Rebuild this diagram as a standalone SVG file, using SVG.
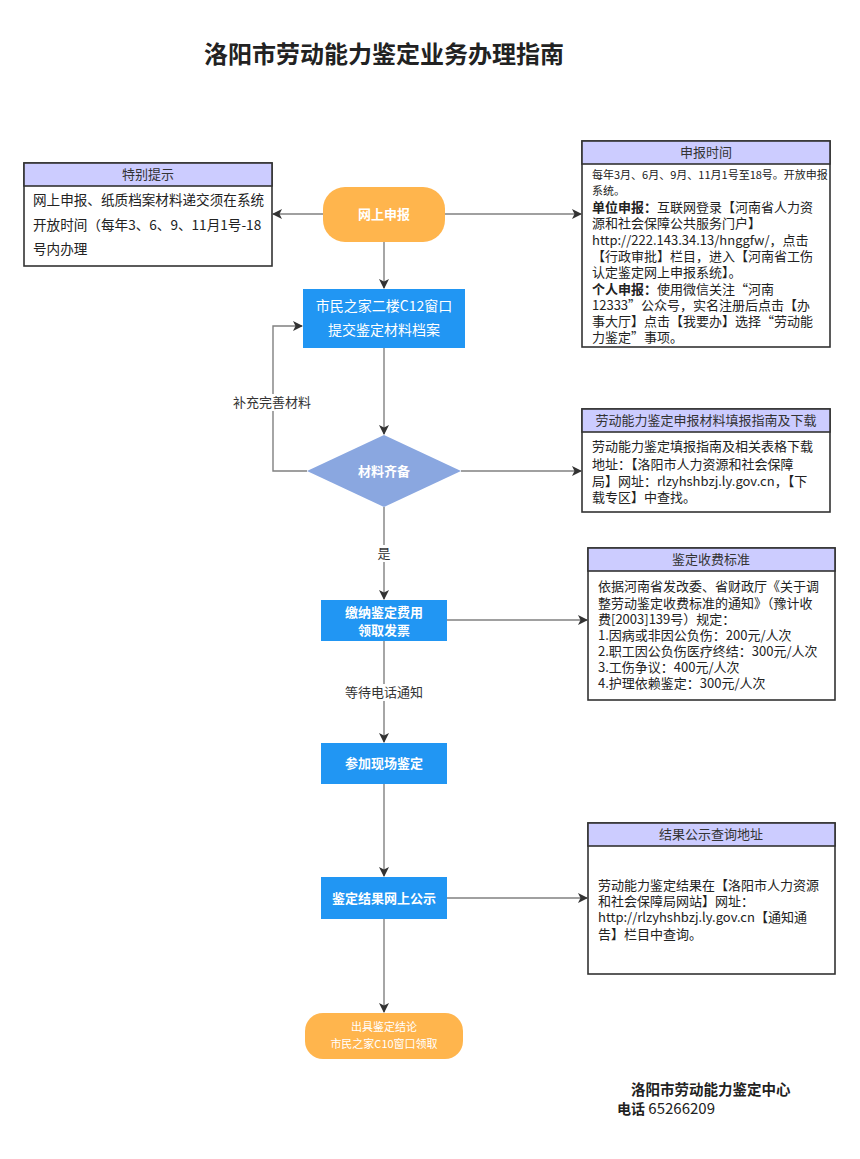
<svg xmlns="http://www.w3.org/2000/svg" width="860" height="1159" viewBox="0 0 860 1159">
<style>
text{font-family:"Noto Sans CJK SC","Noto Sans",sans-serif;fill:#222}
.box{fill:#fff;stroke:#333;stroke-width:1.6}
.hdr{fill:#ccccff;stroke:#333;stroke-width:1.6}
.ht{font-size:13px;text-anchor:middle;fill:#333}
.bt{font-size:13px}
.b11{font-size:11px}
.w{fill:#fff;text-anchor:middle}
.bold{font-weight:bold}
.ln{fill:none;stroke:#808080;stroke-width:1.4}
.lbl{font-size:13px;text-anchor:middle;fill:#333}
</style>
<defs>
<marker id="ar" viewBox="0 0 10 10" refX="9" refY="5" markerWidth="10" markerHeight="10" markerUnits="userSpaceOnUse" orient="auto">
<path d="M0,0 L10,5 L0,10 L2.5,5 Z" fill="#333"/>
</marker>
</defs>
<rect width="860" height="1159" fill="#fff"/>
<text x="384" y="63" font-size="24" font-weight="bold" text-anchor="middle" fill="#333">洛阳市劳动能力鉴定业务办理指南</text>

<g id="connectors">
<line class="ln" x1="323" y1="214" x2="273" y2="214" marker-end="url(#ar)"/>
<line class="ln" x1="445" y1="214" x2="581" y2="214" marker-end="url(#ar)"/>
<line class="ln" x1="384" y1="242" x2="384" y2="288" marker-end="url(#ar)"/>
<line class="ln" x1="384" y1="348" x2="384" y2="434" marker-end="url(#ar)"/>
<polyline class="ln" points="307,471 273,471 273,326 302,326" marker-end="url(#ar)"/>
<rect x="232" y="394" width="80" height="17" fill="#fff"/>
<text class="lbl" x="272" y="407">补充完善材料</text>
<line class="ln" x1="461" y1="471" x2="581" y2="471" marker-end="url(#ar)"/>
<line class="ln" x1="384" y1="507" x2="384" y2="599" marker-end="url(#ar)"/>
<rect x="376" y="545" width="16" height="17" fill="#fff"/>
<text class="lbl" x="384" y="558">是</text>
<line class="ln" x1="447" y1="620" x2="587" y2="620" marker-end="url(#ar)"/>
<line class="ln" x1="384" y1="641" x2="384" y2="742" marker-end="url(#ar)"/>
<rect x="344" y="684" width="80" height="17" fill="#fff"/>
<text class="lbl" x="384" y="697">等待电话通知</text>
<line class="ln" x1="384" y1="784" x2="384" y2="876" marker-end="url(#ar)"/>
<line class="ln" x1="447" y1="898" x2="587" y2="898" marker-end="url(#ar)"/>
<line class="ln" x1="384" y1="919" x2="384" y2="1012" marker-end="url(#ar)"/>
</g>

<g id="online">
<rect x="323" y="187" width="122" height="55" rx="22" fill="#ffb54d"/>
<text class="w bold" x="384" y="219" font-size="13">网上申报</text>
</g>
<g id="submit">
<rect x="303" y="289" width="162" height="59" fill="#2196f3"/>
<text class="w" x="384" y="311" font-size="14">市民之家二楼C12窗口</text>
<text class="w" x="384" y="335" font-size="14">提交鉴定材料档案</text>
</g>
<g id="check">
<polygon points="384,435 461,471 384,507 307,471" fill="#8aa7e0"/>
<text class="w bold" x="384" y="476" font-size="13">材料齐备</text>
</g>
<g id="pay">
<rect x="321" y="600" width="126" height="41" fill="#2196f3"/>
<text class="w bold" x="384" y="617" font-size="13">缴纳鉴定费用</text>
<text class="w bold" x="384" y="635" font-size="13">领取发票</text>
</g>
<g id="attend">
<rect x="321" y="743" width="126" height="41" fill="#2196f3"/>
<text class="w bold" x="384" y="768" font-size="13">参加现场鉴定</text>
</g>
<g id="publish">
<rect x="321" y="877" width="126" height="42" fill="#2196f3"/>
<text class="w bold" x="384" y="903" font-size="13">鉴定结果网上公示</text>
</g>
<g id="result">
<rect x="305" y="1013" width="158" height="46" rx="18" fill="#ffb54d"/>
<text class="w" x="384" y="1031" font-size="11">出具鉴定结论</text>
<text class="w" x="384" y="1048" font-size="11">市民之家C10窗口领取</text>
</g>

<g id="tips">
<rect class="box" x="24" y="163" width="248" height="103"/>
<rect class="hdr" x="24" y="163" width="248" height="23"/>
<text class="ht" x="148" y="179">特别提示</text>
<text x="33" y="205" font-size="13.6">网上申报、纸质档案材料递交须在系统</text>
<text x="33" y="230" font-size="13.6">开放时间（每年3、6、9、11月1号-18</text>
<text x="33" y="254" font-size="13.6">号内办理</text>
</g>

<g id="time">
<rect class="box" x="582" y="141" width="248" height="206"/>
<rect class="hdr" x="582" y="141" width="248" height="23"/>
<text class="ht" x="706" y="157">申报时间</text>
<text class="b11" x="592" y="179">每年3月、6月、9月、11月1号至18号。开放申报</text>
<text class="b11" x="592" y="195">系统。</text>
<text class="bt" x="592" y="212"><tspan font-weight="bold">单位申报：</tspan>互联网登录【河南省人力资</text>
<text class="bt" x="592" y="228">源和社会保障公共服务门户】</text>
<text class="bt" x="592" y="245">http://222.143.34.13/hnggfw/，点击</text>
<text class="bt" x="592" y="261">【行政审批】栏目，进入【河南省工伤</text>
<text class="bt" x="592" y="277">认定鉴定网上申报系统】。</text>
<text class="bt" x="592" y="294"><tspan font-weight="bold">个人申报：</tspan>使用微信关注“河南</text>
<text class="bt" x="592" y="310">12333”公众号，实名注册后点击【办</text>
<text class="bt" x="592" y="326">事大厅】点击【我要办】选择“劳动能</text>
<text class="bt" x="592" y="342">力鉴定”事项。</text>
</g>

<g id="download">
<rect class="box" x="582" y="409" width="248" height="103"/>
<rect class="hdr" x="582" y="409" width="248" height="23"/>
<text class="ht" x="706" y="425">劳动能力鉴定申报材料填报指南及下载</text>
<text class="bt" x="592" y="451">劳动能力鉴定填报指南及相关表格下载</text>
<text class="bt" x="592" y="469">地址：【洛阳市人力资源和社会保障</text>
<text class="bt" x="592" y="486">局】网址：rlzyhshbzj.ly.gov.cn，【下</text>
<text class="bt" x="592" y="502">载专区】中查找。</text>
</g>

<g id="fee">
<rect class="box" x="588" y="548" width="247" height="152"/>
<rect class="hdr" x="588" y="548" width="247" height="23"/>
<text class="ht" x="711" y="564">鉴定收费标准</text>
<text class="bt" x="598" y="591">依据河南省发改委、省财政厅《关于调</text>
<text class="bt" x="598" y="608">整劳动鉴定收费标准的通知》（豫计收</text>
<text class="bt" x="598" y="624">费[2003]139号）规定：</text>
<text class="bt" x="598" y="640">1.因病或非因公负伤：200元/人次</text>
<text class="bt" x="598" y="656">2.职工因公负伤医疗终结：300元/人次</text>
<text class="bt" x="598" y="672">3.工伤争议：400元/人次</text>
<text class="bt" x="598" y="688">4.护理依赖鉴定：300元/人次</text>
</g>

<g id="query">
<rect class="box" x="588" y="823" width="247" height="151"/>
<rect class="hdr" x="588" y="823" width="247" height="23"/>
<text class="ht" x="711" y="839">结果公示查询地址</text>
<text class="bt" x="598" y="890">劳动能力鉴定结果在【洛阳市人力资源</text>
<text class="bt" x="598" y="906">和社会保障局网站】网址：</text>
<text class="bt" x="598" y="922">http://rlzyhshbzj.ly.gov.cn【通知通</text>
<text class="bt" x="598" y="939">告】栏目中查询。</text>
</g>

<g id="footer">
<text x="631" y="1095" font-size="14.5" font-weight="bold" fill="#333">洛阳市劳动能力鉴定中心</text>
<text x="617" y="1114" font-size="15" fill="#333"><tspan font-weight="bold" font-size="14">电话</tspan> 65266209</text>
</g>
</svg>
